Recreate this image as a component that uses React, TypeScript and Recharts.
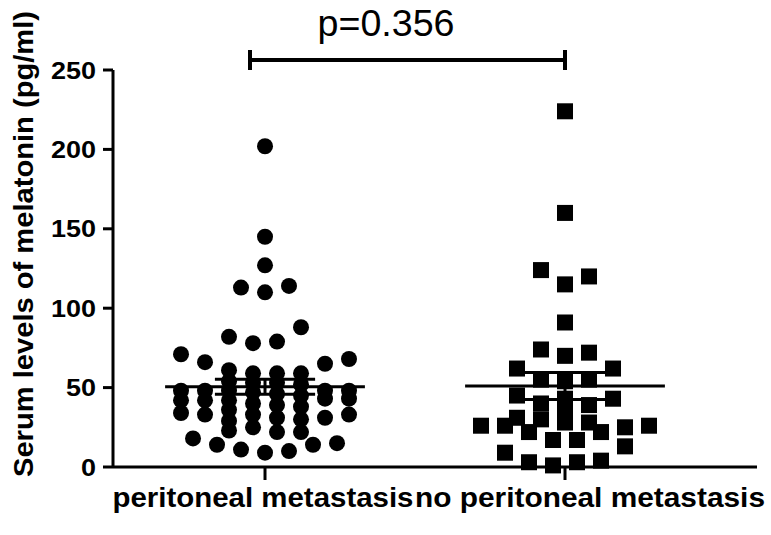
import React from 'react'
import {
  ScatterChart,
  Scatter,
  XAxis,
  YAxis,
  ReferenceLine,
} from 'recharts'

const groups = ['peritoneal metastasis', 'no peritoneal metastasis']
const yTicks = [0, 50, 100, 150, 200, 250]
const pText = 'p=0.356'

// column index of each point (dot-plot spread), then its value
const metCols = [
  0, 0, 0, -2, 0, 2,
  3, -3, -1, 1, -7, -5, 5, 7, -3, -1, 1, 3,
  -7, -7, -7, -5, -5, -5,
  -3, -3, -3, -3, -3, -3,
  -1, -1, -1, -1, -1,
  1, 1, 1, 1, 1,
  3, 3, 3, 3, 3,
  5, 5, 5, 7, 7, 7,
  -6, -4, -2, 0, 2, 4, 6,
]
const metValues = [
  202, 145, 127, 113, 110, 114,
  88, 82, 78, 79, 71, 66, 65, 68, 61, 59, 59, 59,
  48, 42, 34, 48, 42, 33,
  54, 48, 42, 36, 29, 23,
  53, 47, 40, 33, 25,
  53, 46, 39, 31, 22,
  52, 45, 38, 30, 22,
  48, 43, 31, 48, 43, 33,
  18, 14, 11, 9, 10, 14, 15,
]

const noMetCols = [
  0, 0, -2, 0, 2, 0, -2, 0, 2, -4, 4, -2, 0, 2, -4, 4, -2, 0, 0, 0, 2, 2,
  -7, -5, -4, -2, -3, 3, 5, 7, -1, 1, -5, 5, -3, -1, 1, 3,
]
const noMetValues = [
  224, 160, 124, 115, 120, 91, 74, 70, 72, 62, 62, 55, 54, 55, 45, 43, 40, 43, 35, 28, 39, 28,
  26, 26, 31, 30, 22, 22, 25, 26, 17, 17, 9, 13, 3, 1, 3, 4,
]

const means = [50.5, 51]
const sems = [4.7, 8.5]

const COL_STEP = 0.04
const FONT = 'Liberation Sans, Arial, sans-serif'

const metData = metValues.map((v, i) => ({ x: 1 + metCols[i] * COL_STEP, y: v }))
const noMetData = noMetValues.map((v, i) => ({ x: 2 + noMetCols[i] * COL_STEP, y: v }))

const Dot = (props: any) => <circle cx={props.cx} cy={props.cy} r={8} fill="#000" />
const Square = (props: any) => (
  <rect x={props.cx - 8} y={props.cy - 8} width={16} height={16} fill="#000" />
)

const YTick = ({ x, y, payload }: any) => {
  const s = String(payload.value)
  return (
    <text
      x={x - 5}
      y={y}
      dy="0.36em"
      textAnchor="end"
      fontFamily={FONT}
      fontWeight="bold"
      fontSize={24}
      textLength={s.length * 15}
      lengthAdjust="spacingAndGlyphs"
      fill="#000"
    >
      {s}
    </text>
  )
}

const XTick = ({ x, y, payload }: any) => {
  const i = payload.value - 1
  const label = groups[i]
  return (
    <text
      x={i === 0 ? x - 2 : x + 25}
      y={y + 25}
      textAnchor="middle"
      fontFamily={FONT}
      fontWeight="bold"
      fontSize={27}
      textLength={i === 0 ? 301 : 350}
      lengthAdjust="spacingAndGlyphs"
      fill="#000"
    >
      {label}
    </text>
  )
}

const YLabel = () => (
  <text
    transform="translate(33, 244) rotate(-90)"
    textAnchor="middle"
    fontFamily={FONT}
    fontWeight="bold"
    fontSize={28}
    textLength={466}
    lengthAdjust="spacingAndGlyphs"
    fill="#000"
  >
    Serum levels of melatonin (pg/ml)
  </text>
)

const PLabel = () => (
  <text
    x={386}
    y={36}
    textAnchor="middle"
    fontFamily={FONT}
    fontSize={37}
    textLength={137}
    lengthAdjust="spacingAndGlyphs"
    fill="#000"
  >
    {pText}
  </text>
)

const line = { stroke: '#000', strokeWidth: 3 }

export default function App() {
  return (
    <div style={{ position: 'absolute', left: 0, top: 0, width: 771, height: 535, background: '#fff' }}>
      <ScatterChart width={771} height={535} margin={{ top: 70, right: 14, bottom: 0, left: 0 }}>
        <XAxis
          type="number"
          dataKey="x"
          domain={[0.4933, 2.64]}
          ticks={[1, 2]}
          tick={<XTick />}
          tickSize={13}
          height={68}
          axisLine={line}
          tickLine={line}
          allowDataOverflow
        />
        <YAxis
          type="number"
          dataKey="y"
          domain={[0, 250]}
          ticks={yTicks}
          tick={<YTick />}
          tickSize={10}
          width={113}
          axisLine={line}
          tickLine={line}
          label={{ content: YLabel }}
        />
        {means.map((m, i) => {
          const c = i + 1
          return (
            <React.Fragment key={i}>
              <ReferenceLine segment={[{ x: c - 0.333, y: m }, { x: c + 0.333, y: m }]} {...line} ifOverflow="visible" />
              <ReferenceLine segment={[{ x: c - 0.167, y: m + sems[i] }, { x: c + 0.167, y: m + sems[i] }]} {...line} ifOverflow="visible" />
              <ReferenceLine segment={[{ x: c - 0.167, y: m - sems[i] }, { x: c + 0.167, y: m - sems[i] }]} {...line} ifOverflow="visible" />
              <ReferenceLine segment={[{ x: c, y: m - sems[i] }, { x: c, y: m + sems[i] }]} {...line} ifOverflow="visible" />
            </React.Fragment>
          )
        })}
        <Scatter data={metData} shape={Dot} isAnimationActive={false} />
        <Scatter data={noMetData} shape={Square} isAnimationActive={false} />
        <ReferenceLine
          segment={[{ x: 0.95, y: 256.3 }, { x: 2.0, y: 256.3 }]}
          stroke="#000"
          strokeWidth={4}
          ifOverflow="visible"
          label={{ content: PLabel }}
        />
        <ReferenceLine segment={[{ x: 0.95, y: 250 }, { x: 0.95, y: 262.6 }]} stroke="#000" strokeWidth={4} ifOverflow="visible" />
        <ReferenceLine segment={[{ x: 2.0, y: 250 }, { x: 2.0, y: 262.6 }]} stroke="#000" strokeWidth={4} ifOverflow="visible" />
      </ScatterChart>
    </div>
  )
}
